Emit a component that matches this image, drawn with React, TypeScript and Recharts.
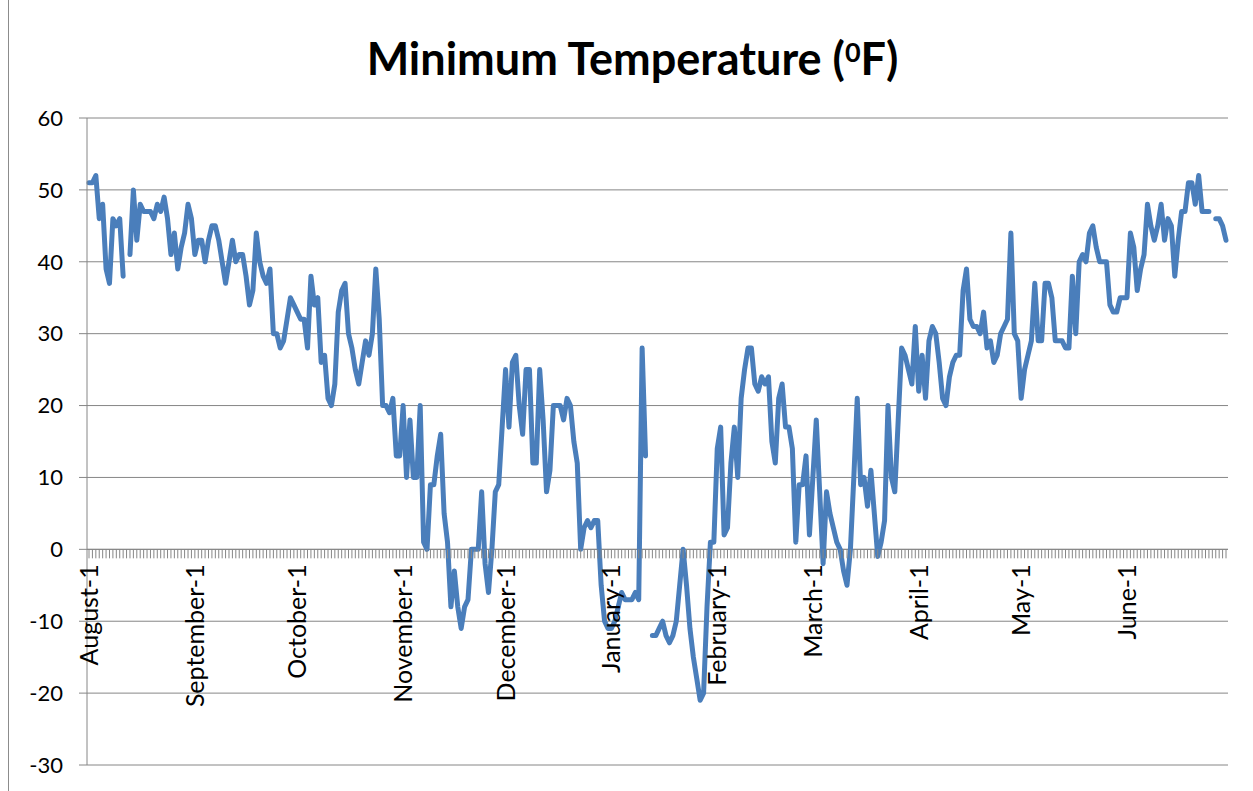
import React from "react"
import { LineChart, Line, XAxis, YAxis, CartesianGrid, ReferenceLine } from "recharts"

const monthNames = ["August", "September", "October", "November", "December", "January", "February", "March", "April", "May", "June"]

const augTemps = [51, 51, 52, 46, 48, 39, 37, 46, 45, 46, 38, null, 41, 50, 43, 48, 47, 47, 47, 46, 48, 47, 49, 46, 41, 44, 39, 42, 44, 48, 46]
const sepTemps = [41, 43, 43, 40, 43, 45, 45, 43, 40, 37, 40, 43, 40, 41, 41, 38, 34, 36, 44, 40, 38, 37, 39, 30, 30, 28, 29, 32, 35, 34]
const octTemps = [33, 32, 32, 28, 38, 34, 35, 26, 27, 21, 20, 23, 33, 36, 37, 30, 28, 25, 23, 26, 29, 27, 30, 39, 32, 20, 20, 19, 21, 13, 13]
const novTemps = [20, 10, 18, 10, 10, 20, 1, 0, 9, 9, 13, 16, 5, 1, -8, -3, -8, -11, -8, -7, 0, 0, 0, 8, -2, -6, 0, 8, 9, 17]
const decTemps = [25, 17, 26, 27, 20, 16, 25, 25, 12, 12, 25, 18, 8, 11, 20, 20, 20, 18, 21, 20, 15, 12, 0, 3, 4, 3, 4, 4, -5, -10, -11]
const janTemps = [-11, -10, -8, -6, -7, -7, -7, -6, -7, 28, 13, null, -12, -12, -11, -10, -12, -13, -12, -10, -5, 0, -5, -11, -15, -18, -21, -20, -8, 1, 1]
const febTemps = [14, 17, 2, 3, 12, 17, 10, 21, 25, 28, 28, 23, 22, 24, 23, 24, 15, 12, 21, 23, 17, 17, 14, 1, 9, 9, 13, 2]
const marTemps = [10, 18, 8, -2, 8, 5, 3, 1, 0, -3, -5, 0, 10, 21, 9, 10, 6, 11, 5, -1, 1, 4, 20, 10, 8, 18, 28, 27, 25, 23, 31]
const aprTemps = [22, 27, 21, 29, 31, 30, 26, 21, 20, 24, 26, 27, 27, 36, 39, 32, 31, 31, 30, 33, 28, 29, 26, 27, 30, 31, 32, 44, 30, 29]
const mayTemps = [21, 25, 27, 29, 37, 29, 29, 37, 37, 35, 29, 29, 29, 28, 28, 38, 30, 40, 41, 40, 44, 45, 42, 40, 40, 40, 34, 33, 33, 35, 35]
const junTemps = [35, 44, 42, 36, 39, 41, 48, 45, 43, 45, 48, 43, 46, 45, 38, 43, 47, 47, 51, 51, 48, 52, 47, 47, 47, null, 46, 46, 45, 43]

const monthTemps = [augTemps, sepTemps, octTemps, novTemps, decTemps, janTemps, febTemps, marTemps, aprTemps, mayTemps, junTemps]
const yTicks = [-30, -20, -10, 0, 10, 20, 30, 40, 50, 60]

const data = monthNames.flatMap((name, m) =>
  monthTemps[m].map((t, i) => ({ day: `${name}-${i + 1}`, temp: t }))
)

const W = 1253
const H = 791
const PLOT_TOP = 118
const PLOT_BOTTOM = 765
const X_AXIS_H = 20
const Y_MIN = -30
const Y_MAX = 60
// the category axis crosses at 0, not at the bottom of the plot
const ZERO_Y = PLOT_TOP + ((PLOT_BOTTOM - PLOT_TOP) * Y_MAX) / (Y_MAX - Y_MIN)
const GRAY = "#868686"
const FONT = "Lato, 'DejaVu Sans', sans-serif"

function DayTick({ x, payload }: any) {
  const label = String(payload.value)
  return (
    <g>
      <line x1={x} x2={x} y1={ZERO_Y} y2={ZERO_Y + 9} stroke={GRAY} strokeWidth={1} />
      {label.endsWith("-1") && (
        <text
          x={0}
          y={0}
          transform={`translate(${x},${ZERO_Y + 15}) rotate(-90)`}
          textAnchor="end"
          dy="0.36em"
          fontSize={25}
          fontFamily={FONT}
          fill="#000"
        >
          {label}
        </text>
      )}
    </g>
  )
}

export default function App() {
  return (
    <div style={{ position: "fixed", left: 0, top: 0, width: W, height: H, background: "#fff", fontFamily: FONT }}>
      <div style={{ position: "absolute", left: 8, top: 0, width: 1, height: H, background: "#8c8c8c" }} />
      <div
        style={{
          position: "absolute",
          left: 12,
          top: 31,
          width: W - 12,
          textAlign: "center",
          fontSize: 45,
          fontWeight: 700,
          lineHeight: 1.2,
          color: "#000",
        }}
      >
        Minimum Temperature (<span style={{ fontSize: "0.6em", position: "relative", top: -13 }}>0</span>F)
      </div>
      <LineChart
        width={W}
        height={H}
        data={data}
        margin={{ top: PLOT_TOP, right: 25, bottom: H - PLOT_BOTTOM - X_AXIS_H, left: 0 }}
      >
        <CartesianGrid vertical={false} stroke={GRAY} strokeWidth={1} />
        <XAxis
          dataKey="day"
          type="category"
          interval={0}
          height={X_AXIS_H}
          minTickGap={0}
          tickLine={false}
          axisLine={false}
          padding={{ left: 2, right: 2 }}
          tick={(p: any) => <DayTick {...p} />}
        />
        <YAxis
          type="number"
          domain={[Y_MIN, Y_MAX]}
          ticks={yTicks}
          interval={0}
          width={87}
          tickSize={8}
          tickMargin={16}
          axisLine={{ stroke: GRAY }}
          tickLine={{ stroke: GRAY }}
          tick={{ fill: "#000", fontSize: 22, fontFamily: FONT }}
        />
        <ReferenceLine y={0} stroke={GRAY} strokeWidth={1} />
        <Line
          type="linear"
          dataKey="temp"
          stroke="#4a7ebb"
          strokeWidth={5}
          dot={false}
          activeDot={false}
          isAnimationActive={false}
          strokeLinejoin="round"
          strokeLinecap="round"
        />
      </LineChart>
    </div>
  )
}
